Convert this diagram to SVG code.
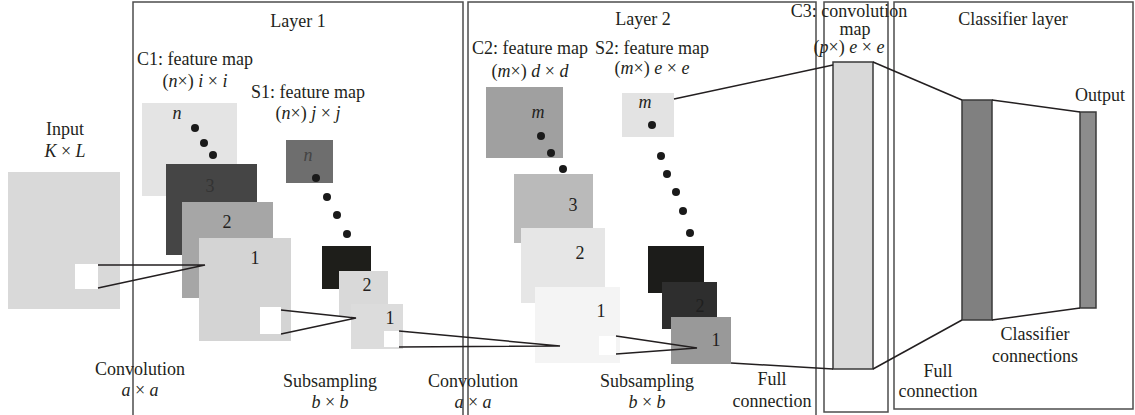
<svg xmlns="http://www.w3.org/2000/svg" width="1135" height="415" viewBox="0 0 1135 415">
<style>
text{font-family:"Liberation Serif","Times New Roman",serif;font-size:18px;fill:#231f20;text-anchor:middle}
.i{font-style:italic}
.num{font-size:18px}
.frame{fill:none;stroke:#4d4d4d;stroke-width:1.5}
.ln{stroke:#231f20;stroke-width:1.5;fill:none}
.dot{fill:#1a1a1a}
.bar{stroke:#3a3a3a;stroke-width:1.5}
</style>
<rect width="1135" height="415" fill="#fff"/>

<g id="frames">
<path class="frame" d="M133,416 V2 H463 V416"/>
<path class="frame" d="M468,416 V2 H816 V416"/>
<rect class="frame" x="824" y="2" width="64" height="410"/>
<rect class="frame" x="894" y="2" width="239" height="407"/>
</g>

<g id="input">
<text x="65" y="135">Input</text>
<text x="65" y="157"><tspan class="i">K</tspan> × <tspan class="i">L</tspan></text>
<rect x="8" y="172" width="112" height="137" fill="#d9d9d9"/>
<rect x="75" y="264" width="23" height="25" fill="#fff"/>
</g>

<g id="layer1">
<text x="298" y="27">Layer 1</text>
<text x="195" y="65">C1: feature map</text>
<text x="195" y="87">(<tspan class="i">n</tspan>×) <tspan class="i">i</tspan> × <tspan class="i">i</tspan></text>
<text x="308" y="98">S1: feature map</text>
<text x="308" y="119">(<tspan class="i">n</tspan>×) <tspan class="i">j</tspan> × <tspan class="i">j</tspan></text>
</g>

<g id="c1-maps">
<rect x="142" y="103" width="95" height="93" fill="#e4e4e4"/>
<text class="i num" x="177" y="119">n</text>
<circle class="dot" cx="195" cy="128" r="4"/>
<circle class="dot" cx="204" cy="143" r="4"/>
<circle class="dot" cx="213" cy="155" r="4"/>
<rect x="166" y="164" width="91" height="91" fill="#454545"/>
<text class="num" x="210" y="192" style="fill:#333">3</text>
<rect x="182" y="202" width="91" height="96" fill="#a6a6a6"/>
<text class="num" x="227" y="228">2</text>
<rect x="199" y="238" width="92" height="103" fill="#d4d4d4"/>
<text class="num" x="255" y="264">1</text>
<rect x="260" y="307" width="21" height="27" fill="#fff"/>
</g>

<g id="s1-maps">
<rect x="286" y="140" width="47" height="43" fill="#6e6e6e"/>
<text class="i num" x="308" y="161" style="fill:#444">n</text>
<circle class="dot" cx="316" cy="178" r="4"/>
<circle class="dot" cx="327" cy="197" r="4"/>
<circle class="dot" cx="337" cy="215" r="4"/>
<circle class="dot" cx="347" cy="234" r="4"/>
<rect x="322" y="246" width="49" height="43" fill="#1e1e1a"/>
<rect x="339" y="271" width="49" height="45" fill="#d9d9d9"/>
<text class="num" x="367" y="291">2</text>
<rect x="351" y="304" width="52" height="45" fill="#dcdcdc"/>
<text class="num" x="390" y="324">1</text>
<rect x="384" y="331" width="15" height="16" fill="#fff"/>
</g>

<g id="layer2">
<text x="643" y="25">Layer 2</text>
<text x="530" y="54">C2: feature map</text>
<text x="530" y="77">(<tspan class="i">m</tspan>×) <tspan class="i">d</tspan> × <tspan class="i">d</tspan></text>
<text x="652" y="54">S2: feature map</text>
<text x="652" y="74">(<tspan class="i">m</tspan>×) <tspan class="i">e</tspan> × <tspan class="i">e</tspan></text>
</g>

<g id="c2-maps">
<rect x="486" y="87" width="77" height="71" fill="#a0a0a0"/>
<text class="i num" x="538" y="118">m</text>
<circle class="dot" cx="541" cy="136" r="4"/>
<circle class="dot" cx="551" cy="153" r="4"/>
<circle class="dot" cx="563" cy="169" r="4"/>
<rect x="514" y="174" width="79" height="69" fill="#bababa"/>
<text class="num" x="573" y="211">3</text>
<rect x="521" y="228" width="84" height="75" fill="#e6e6e6"/>
<text class="num" x="580" y="259">2</text>
<rect x="535" y="287" width="85" height="76" fill="#f4f4f4"/>
<text class="num" x="601" y="317">1</text>
<rect x="599" y="336" width="17" height="19" fill="#fff"/>
</g>

<g id="s2-maps">
<rect x="622" y="93" width="52" height="44" fill="#e3e3e3"/>
<text class="i num" x="645" y="108">m</text>
<circle class="dot" cx="652" cy="125" r="4"/>
<circle class="dot" cx="661" cy="156" r="4"/>
<circle class="dot" cx="667" cy="174" r="4"/>
<circle class="dot" cx="676" cy="192" r="4"/>
<circle class="dot" cx="683" cy="211" r="4"/>
<circle class="dot" cx="690" cy="233" r="4"/>
<rect x="648" y="246" width="56" height="47" fill="#1c1c1a"/>
<rect x="662" y="282" width="55" height="47" fill="#2e2e2e"/>
<text class="num" x="700" y="312" style="fill:#1f1f1f">2</text>
<rect x="671" y="317" width="60" height="47" fill="#999"/>
<text class="num" x="716" y="346">1</text>
</g>

<g id="c3">
<text x="849" y="17">C3: convolution</text>
<text x="855" y="35">map</text>
<text x="849" y="53">(<tspan class="i">p</tspan>×) <tspan class="i">e</tspan> × <tspan class="i">e</tspan></text>
<rect class="bar" x="833" y="62" width="40" height="307" fill="#d9d9d9"/>
</g>

<g id="classifier">
<text x="1013" y="25">Classifier layer</text>
<rect class="bar" x="962" y="100" width="30" height="220" fill="#808080"/>
<text x="1100" y="101">Output</text>
<rect class="bar" x="1080" y="112" width="16" height="196" fill="#8c8c8c"/>
</g>

<g id="connectors">
<polyline class="ln" points="98,265 205,265 98,288"/>
<polyline class="ln" points="281,310 356,318 281,334"/>
<polyline class="ln" points="399,331 560,346 399,347"/>
<polyline class="ln" points="616,336 697,348 616,354"/>
<line class="ln" x1="731" y1="363" x2="833" y2="369"/>
<line class="ln" x1="674" y1="99" x2="833" y2="65"/>
<line class="ln" x1="873" y1="62" x2="962" y2="100"/>
<line class="ln" x1="873" y1="369" x2="962" y2="320"/>
<line class="ln" x1="992" y1="100" x2="1080" y2="112"/>
<line class="ln" x1="992" y1="320" x2="1080" y2="308"/>
</g>

<g id="labels">
<text x="140" y="375">Convolution</text>
<text x="140" y="396"><tspan class="i">a</tspan> × <tspan class="i">a</tspan></text>
<text x="330" y="387">Subsampling</text>
<text x="330" y="408"><tspan class="i">b</tspan> × <tspan class="i">b</tspan></text>
<text x="473" y="387">Convolution</text>
<text x="473" y="408"><tspan class="i">a</tspan> × <tspan class="i">a</tspan></text>
<text x="647" y="387">Subsampling</text>
<text x="647" y="408"><tspan class="i">b</tspan> × <tspan class="i">b</tspan></text>
<text x="772" y="385">Full</text>
<text x="772" y="407">connection</text>
<text x="938" y="377">Full</text>
<text x="938" y="397">connection</text>
<text x="1035" y="340">Classifier</text>
<text x="1035" y="362">connections</text>
</g>
</svg>
